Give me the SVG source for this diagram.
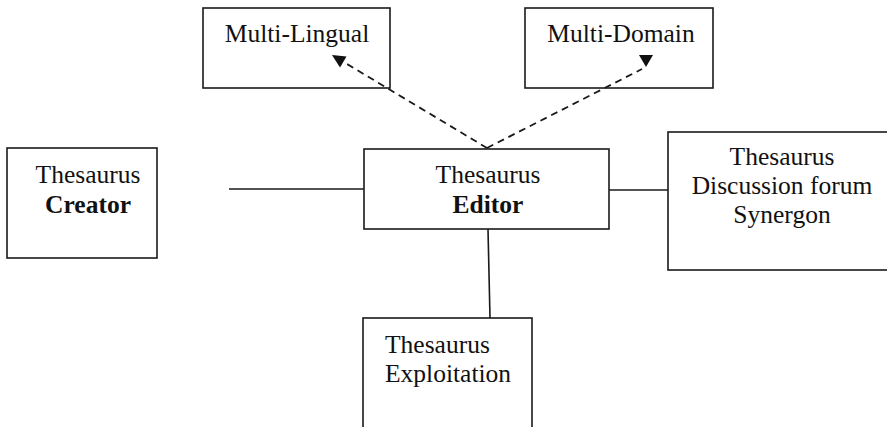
<svg xmlns="http://www.w3.org/2000/svg" width="887" height="427" viewBox="0 0 887 427">
<style>
.box{fill:#fff;stroke:#1a1a1a;stroke-width:1.6}
.t{font-family:"Liberation Serif","Times New Roman",serif;font-size:25.5px;fill:#111}
.c{text-anchor:middle}
.b{font-weight:bold}
.ln{stroke:#1a1a1a;stroke-width:1.6;fill:none}
.dash{stroke:#1a1a1a;stroke-width:1.8;fill:none;stroke-dasharray:7 5}
.ah{fill:#111}
</style>
<rect width="887" height="427" fill="#fff"/>
<g id="multi-lingual">
<rect class="box" x="203" y="8" width="187" height="80"/>
<text class="t c" x="297" y="42">Multi-Lingual</text>
</g>
<g id="multi-domain">
<rect class="box" x="525" y="8" width="188" height="80"/>
<text class="t c" x="621" y="42">Multi-Domain</text>
</g>
<g id="creator">
<rect class="box" x="7" y="148" width="150" height="110"/>
<text class="t c" x="88" y="183">Thesaurus</text>
<text class="t c b" x="88" y="213">Creator</text>
</g>
<g id="editor">
<rect class="box" x="364" y="149" width="245" height="80"/>
<text class="t c" x="488" y="183">Thesaurus</text>
<text class="t c b" x="488" y="213">Editor</text>
</g>
<g id="forum">
<rect class="box" x="668" y="132" width="225" height="138"/>
<text class="t c" x="782" y="165">Thesaurus</text>
<text class="t c" x="782" y="194">Discussion forum</text>
<text class="t c" x="782" y="223">Synergon</text>
</g>
<g id="exploitation">
<rect class="box" x="363" y="318" width="169" height="115"/>
<text class="t" x="385" y="353">Thesaurus</text>
<text class="t" x="385" y="382">Exploitation</text>
</g>
<g id="connectors">
<line class="ln" x1="229" y1="189" x2="364" y2="189"/>
<line class="ln" x1="609" y1="190" x2="668" y2="190"/>
<line class="ln" x1="488" y1="229" x2="490" y2="318"/>
<line class="dash" x1="487" y1="148" x2="342" y2="61"/>
<polygon class="ah" points="332,55 346.5,56.5 340,67.5"/>
<line class="dash" x1="487" y1="148" x2="642" y2="69"/>
<polygon class="ah" points="639,55 653,55 646,67"/>
</g>
</svg>
